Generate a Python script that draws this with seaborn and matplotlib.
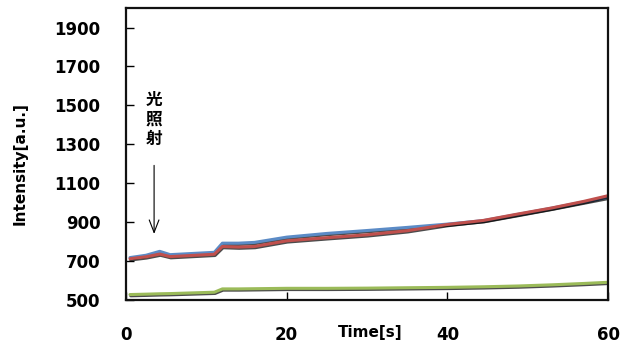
import numpy as np
import pandas as pd
import seaborn as sns
import matplotlib
matplotlib.use("Agg")
import matplotlib.pyplot as plt
import matplotlib.patheffects as pe

# ---- data ----
time = [0.5, 2.5, 4.2, 5.5, 11.0, 12.0, 14.0, 16.0, 20.0, 25.0, 30.0, 35.0,
        40.0, 44.5, 48.8, 53.0, 57.0, 60.0]
blue = [718, 730, 750, 733, 745, 792, 792, 796, 823, 842, 857, 873,
        890, 908, 940, 972, 1004, 1028]
red = [712, 722, 736, 723, 735, 775, 772, 775, 804, 820, 835, 856,
       888, 909, 942, 973, 1007, 1036]
green = [528, 530, 532, 533, 540, 557, 557, 558, 560, 560, 561, 563,
         565, 568, 572, 578, 585, 591]
series_names = ["blue", "red", "green"]
series_colors = ["#5B8BC6", "#C0504D", "#9BBB59"]
xticks = [0, 20, 40, 60]
yticks = [500, 700, 900, 1100, 1300, 1500, 1700, 1900]

df = pd.DataFrame({
    "time": time * 3,
    "value": blue + red + green,
    "series": [series_names[0]] * len(time) + [series_names[1]] * len(time)
              + [series_names[2]] * len(time),
})

sns.set_style("white")
plt.rcParams["font.family"] = ["DejaVu Sans", "Noto Sans CJK SC"]
plt.rcParams["text.color"] = "black"
plt.rcParams["xtick.color"] = "black"
plt.rcParams["ytick.color"] = "black"
plt.rcParams["axes.labelcolor"] = "black"

fig = plt.figure(figsize=(6.23, 3.51), dpi=100)
ax = fig.add_axes([0.2022, 0.1453, 0.7738, 0.8317])

sns.lineplot(data=df, x="time", y="value", hue="series",
             palette=dict(zip(series_names, series_colors)),
             linewidth=2.2, legend=False, ax=ax)
for ln in ax.get_lines():
    ln.set_path_effects([pe.SimpleLineShadow(offset=(0.5, -0.9),
                                             shadow_color="black", alpha=0.7),
                         pe.Normal()])

ax.set_xlim(0, 60)
ax.set_ylim(500, 2000)
ax.set_xticks(xticks)
ax.set_yticks(yticks)
ax.tick_params(axis="both", direction="in", length=6, width=1, color="black",
               labelcolor="black", labelsize=12, pad=18.5,
               left=True, bottom=True)
for lab in ax.get_xticklabels() + ax.get_yticklabels():
    lab.set_fontweight("bold")
for s in ax.spines.values():
    s.set_linewidth(1.6)
    s.set_color("#111111")

ax.set_xlabel("Time[s]", fontsize=11, fontweight="bold", color="black")
ax.xaxis.set_label_coords(0.506, -0.113)
ax.xaxis.label.set_va("center")
ax.set_ylabel("Intensity[a.u.]", fontsize=11, fontweight="bold", color="black")
ax.yaxis.set_label_coords(-0.22, 0.469)
ax.yaxis.label.set_va("center")

# annotation: light irradiation
ax.text(3.5, 1575, "光\n照\n射", ha="center", va="top", fontsize=12,
        fontweight="bold", linespacing=1.1, color="black",
        family=["Noto Sans CJK SC", "DejaVu Sans"])
ax.annotate("", xy=(3.5, 825), xytext=(3.5, 1206),
            arrowprops=dict(arrowstyle="->,head_length=0.9,head_width=0.35",
                            lw=0.8, color="black"))

fig.savefig("out.png", dpi=100)
